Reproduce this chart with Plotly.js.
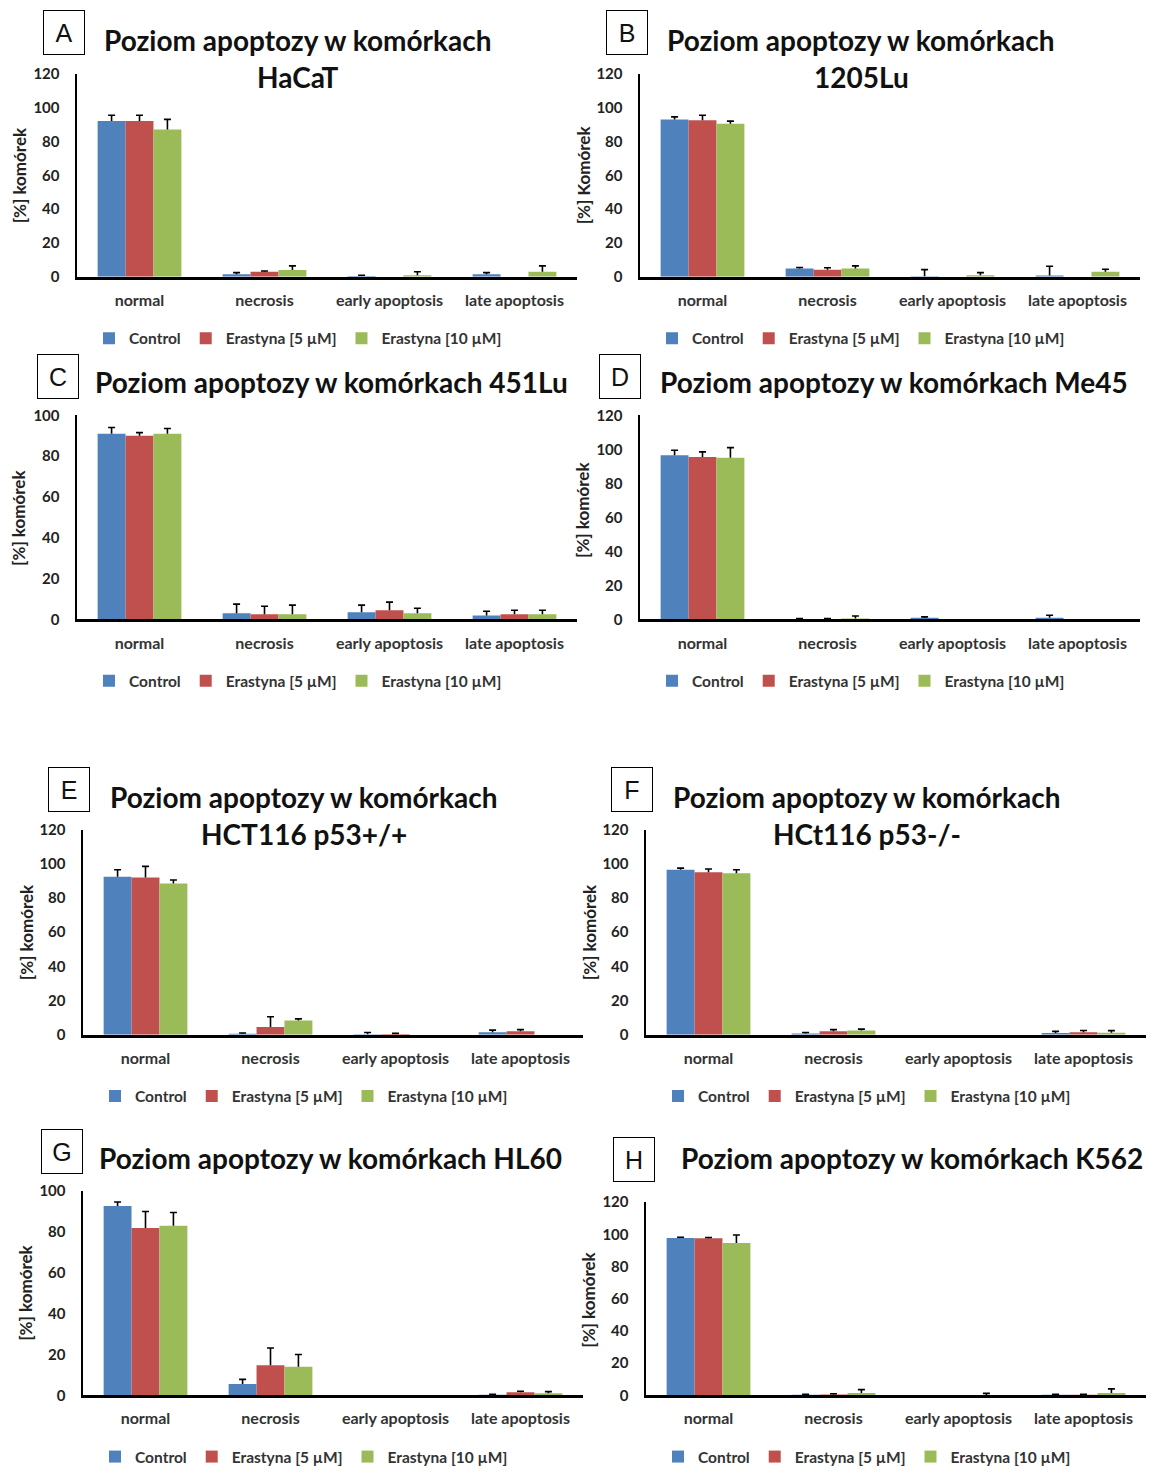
<!DOCTYPE html>
<html>
<head>
<meta charset="utf-8">
<script src="https://cdn.plot.ly/plotly-3.0.1.min.js"></script>
<style>
html,body{margin:0;padding:0;background:#fff;}
#chart{width:1157px;height:1474px;}
</style>
</head>
<body>
<div id="chart"></div>
<script>
// ---------- DATA ----------
const categories = ['normal', 'necrosis', 'early apoptosis', 'late apoptosis'];
const seriesNames = ['Control', 'Erastyna [5 µM]', 'Erastyna [10 µM]'];
const panelLetters = ['A', 'B', 'C', 'D', 'E', 'F', 'G', 'H'];
const titleLine1 = ['Poziom apoptozy w komórkach', 'Poziom apoptozy w komórkach',
  'Poziom apoptozy w komórkach 451Lu', 'Poziom apoptozy w komórkach Me45',
  'Poziom apoptozy w komórkach', 'Poziom apoptozy w komórkach',
  'Poziom apoptozy w komórkach HL60', 'Poziom apoptozy w komórkach K562'];
const titleLine2 = ['HaCaT', '1205Lu', '', '', 'HCT116 p53+/+', 'HCt116 p53-/-', '', ''];
const yAxisTitles = ['[%] komórek', '[%] Komórek', '[%] komórek', '[%] komórek',
  '[%] komórek', '[%] komórek', '[%] komórek', '[%] komórek'];
const yMax = [120, 120, 100, 120, 120, 120, 100, 120];

// rows: Control, Erastyna 5, Erastyna 10 ; columns: categories
const hacatMeans = [[92, 1.5, 0.5, 1.5], [92, 3, 0, 0], [87, 4, 1, 3]];
const hacatErrors = [[3.5, 1, 0.5, 1], [3.5, 0.5, 0, 0], [6, 2.5, 2, 3.5]];
const lu1205Means = [[93, 5, 0.3, 0.8], [92.5, 4.2, 0, 0], [90.5, 5, 1, 3]];
const lu1205Errors = [[1.5, 0.5, 4, 5.5], [3, 1.2, 0, 0], [1.5, 1.5, 1.5, 1.5]];
const lu451Means = [[91, 3, 3.5, 2], [90, 2.5, 4.5, 2.5], [91, 2.5, 3, 2.5]];
const lu451Errors = [[3, 4.5, 3.5, 2], [1.5, 4, 4, 2], [2.5, 4.5, 2.5, 2]];
const me45Means = [[96.5, 0.3, 1, 1], [95.5, 0.3, 0, 0], [95, 0.5, 0, 0]];
const me45Errors = [[3, 0.3, 0.5, 1.5], [3, 0.3, 0, 0], [6, 1.5, 0, 0]];
const hct116wtMeans = [[92.5, 0.6, 0.3, 1.5], [92, 4.5, 0.5, 2], [88.5, 8.3, 0, 0]];
const hct116wtErrors = [[4, 0.4, 1, 1.2], [6.5, 6, 0.3, 1], [2, 1, 0, 0]];
const hct116koMeans = [[96.5, 0.8, 0, 1], [95, 2, 0, 1.5], [94.5, 2.5, 0, 1.2]];
const hct116koErrors = [[1, 0.5, 0, 1], [2, 1, 0, 1], [2, 0.8, 0, 1.2]];
const hl60Means = [[92.7, 5.5, 0, 0.3], [82, 14.7, 0, 1.5], [83, 14, 0, 1]];
const hl60Errors = [[2, 2.3, 0, 0.2], [8, 8.5, 0, 0.5], [6.5, 6, 0, 0.8]];
const k562Means = [[97.7, 0.3, 0, 0.3], [97.5, 0.5, 0, 0.3], [94.6, 1.5, 0.2, 1.5]];
const k562Errors = [[0.5, 0.3, 0, 0.3], [0.5, 0.5, 0, 0.3], [5, 2, 1, 2.5]];

const allMeans = [hacatMeans, lu1205Means, lu451Means, me45Means, hct116wtMeans, hct116koMeans, hl60Means, k562Means];
const allErrors = [hacatErrors, lu1205Errors, lu451Errors, me45Errors, hct116wtErrors, hct116koErrors, hl60Errors, k562Errors];

// ---------- LAYOUT (pixel geometry) ----------
const W = 1157, H = 1474;
const fx = v => v / W;
const fy = v => 1 - v / H;
const colors = ['#4F81BD', '#C0504D', '#9BBB59'];
const FONT = 'Lato, "Open Sans", sans-serif';

// plot frames: left, right, top (ymax), zero line
const frames = [
  {l: 77, r: 577, t: 74, z: 278},
  {l: 640, r: 1140, t: 74, z: 278},
  {l: 77, r: 577, t: 417, z: 622},
  {l: 640, r: 1140, t: 417, z: 622},
  {l: 83, r: 583, t: 833, z: 1039},
  {l: 646, r: 1146, t: 833, z: 1039},
  {l: 83, r: 583, t: 1196, z: 1401},
  {l: 646, r: 1146, t: 1207, z: 1401}
];
const titleY1 = [40, 40, 384, 384, 800, 800, 1163, 1163];
const titleY2 = [77, 77, 0, 0, 837, 837, 0, 0];
const titleX = [298, 861, 331.5, 893.5, 304, 867, 331, 912];
const letterBox = [[63.5, 33], [626.5, 33], [57.5, 378], [619.5, 378], [69, 793], [632, 793], [62, 1156], [633.5, 1164]];
const yTitlePos = [[19, 176], [583, 176], [19, 520], [583, 512], [26, 936], [589, 936], [26, 1298], [589, 1305]];

const traces = [];
const layout = {
  width: W, height: H,
  margin: {l: 0, r: 0, t: 0, b: 0},
  paper_bgcolor: '#fff', plot_bgcolor: 'rgba(0,0,0,0)',
  barmode: 'group', bargap: 0.33, bargroupgap: 0,
  font: {family: FONT, color: '#222'},
  showlegend: true,
  annotations: []
};

frames.forEach((f, i) => {
  const n = i === 0 ? '' : String(i + 1);
  const legendKey = 'legend' + n;
  for (let s = 0; s < 3; s++) {
    const means = allMeans[i][s];
    const errs = allErrors[i][s];
    const group = 'p' + i + 's' + s;
    // bars with error stems (plus direction only)
    traces.push({
      type: 'bar',
      x: categories,
      y: means,
      name: seriesNames[s],
      offsetgroup: group,
      marker: {color: colors[s], line: {width: 0}},
      error_y: {type: 'data', symmetric: false, array: errs,
        arrayminus: means.map(() => 0), color: '#000', thickness: 1.6, width: 0},
      xaxis: 'x' + n, yaxis: 'y' + n,
      legend: legendKey,
      hoverinfo: 'skip'
    });
    // transparent carrier drawing only the top cap of each error bar
    traces.push({
      type: 'bar',
      x: categories,
      y: means.map((m, k) => errs[k] > 0 ? m + errs[k] : null),
      name: seriesNames[s] + ' cap',
      offsetgroup: group,
      showlegend: false,
      marker: {color: 'rgba(0,0,0,0)', line: {width: 0}},
      error_y: {type: 'data', array: means.map(() => 0), color: '#000', thickness: 1.6, width: 3.5},
      xaxis: 'x' + n, yaxis: 'y' + n,
      legend: legendKey,
      hoverinfo: 'skip'
    });
  }
  layout['xaxis' + n] = {
    domain: [fx(f.l), fx(f.r)], anchor: 'y' + n,
    type: 'category', range: [-0.5, 3.5],
    showline: true, linecolor: '#000', linewidth: 3,
    ticks: '', showgrid: false, zeroline: false,
    tickfont: {family: FONT, size: 16, weight: 'bold', color: '#333'},
    ticklabelstandoff: 7,
    fixedrange: true
  };
  layout['yaxis' + n] = {
    domain: [fy(f.z), fy(f.t)], anchor: 'x' + n,
    range: [0, yMax[i]], dtick: 20,
    showline: true, linecolor: '#000', linewidth: 2.5,
    ticks: '', showgrid: false, zeroline: false,
    tickfont: {family: FONT, size: 15, weight: 'bold', color: '#222'},
    ticklabelstandoff: 12,
    fixedrange: true
  };
  layout[legendKey] = {
    orientation: 'h', x: fx(f.l + 12), xanchor: 'left',
    y: fy(f.z + 62), yanchor: 'middle',
    font: {family: FONT, size: 15.5, weight: 'bold', color: '#333'},
    bgcolor: 'rgba(0,0,0,0)', itemclick: false, itemdoubleclick: false
  };
  // titles
  layout.annotations.push({
    xref: 'paper', yref: 'paper', x: fx(titleX[i]), y: fy(titleY1[i]),
    xanchor: 'center', yanchor: 'middle', showarrow: false,
    text: titleLine1[i], font: {family: FONT, size: 28, weight: 'bold', color: '#111'}
  });
  if (titleLine2[i]) {
    layout.annotations.push({
      xref: 'paper', yref: 'paper', x: fx(titleX[i]), y: fy(titleY2[i]),
      xanchor: 'center', yanchor: 'middle', showarrow: false,
      text: titleLine2[i], font: {family: FONT, size: 28, weight: 'bold', color: '#111'}
    });
  }
  // letter box
  layout.annotations.push({
    xref: 'paper', yref: 'paper', x: fx(letterBox[i][0]), y: fy(letterBox[i][1]),
    xanchor: 'center', yanchor: 'middle', showarrow: false,
    text: panelLetters[i], width: 40, height: 43,
    bordercolor: '#000', borderwidth: 1, borderpad: 0,
    font: {family: '"Liberation Sans", Arial, sans-serif', size: 25, color: '#111'}
  });
  // y-axis title
  layout.annotations.push({
    xref: 'paper', yref: 'paper', x: fx(yTitlePos[i][0]), y: fy(yTitlePos[i][1]),
    xanchor: 'center', yanchor: 'middle', showarrow: false, textangle: -90,
    text: yAxisTitles[i], font: {family: FONT, size: 17, weight: 'bold', color: '#222'}
  });
});

Plotly.newPlot('chart', traces, layout, {staticPlot: true, displayModeBar: false});
</script>
</body>
</html>
